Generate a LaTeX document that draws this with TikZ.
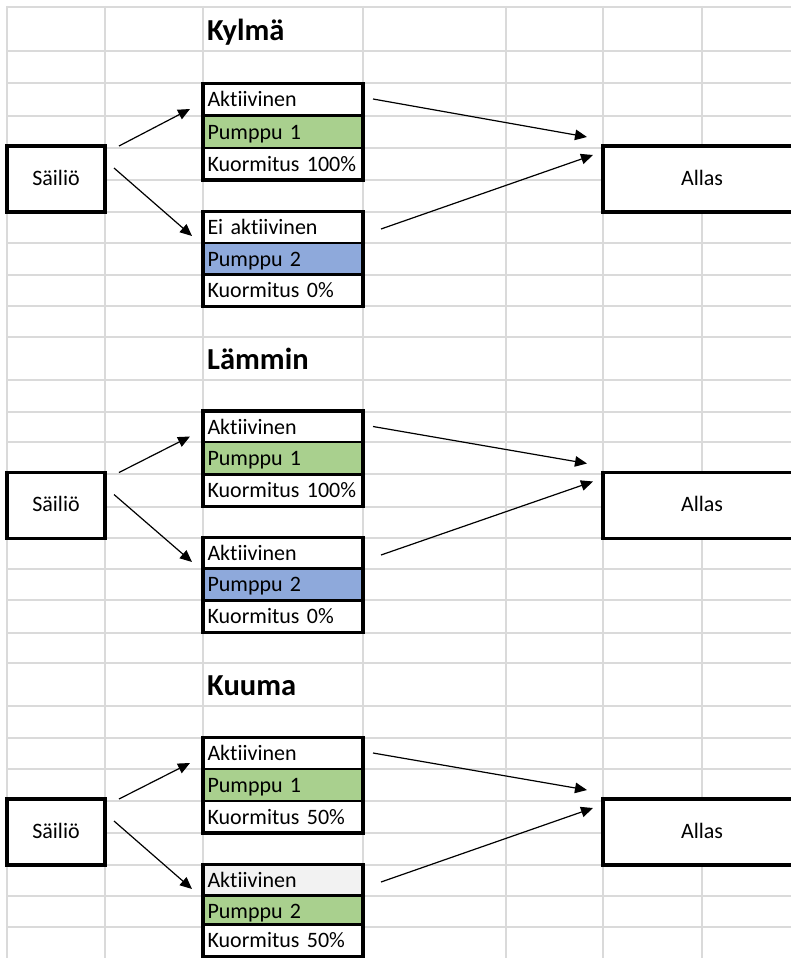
\documentclass[tikz,border=0pt]{standalone}
\usepackage{fontspec}
\setmainfont[Ligatures=NoCommon]{Carlito}
\usetikzlibrary{arrows.meta}
\definecolor{gridline}{HTML}{DADADA}
\definecolor{pumpgreen}{HTML}{A9D08E}
\definecolor{pumpblue}{HTML}{8EA9DB}
\definecolor{idlegray}{HTML}{F2F2F2}

\begin{document}
\begin{tikzpicture}[
  x=1pt,
  y=-1pt,
  >={Triangle[length=12pt,width=10.5pt]},
  sheet/.style={line width=2pt, color=gridline},
  heading/.style={font=\bfseries\fontsize{30.5}{36}\selectfont, inner sep=0pt, anchor=base west},
  tank/.style={draw=black, fill=white, line width=3.4pt, outer sep=0pt, inner sep=0pt,
               minimum width=98pt, minimum height=66pt,
               font=\fontsize{22}{26}\selectfont, text height=12pt, text depth=0pt},
  pool/.style={tank, minimum width=198pt},
  cell/.style={draw=black, fill=white, line width=2.4pt, outer sep=0pt,
               inner xsep=4.5pt, inner ysep=0pt, minimum height=32pt,
               text width=151pt, align=left, text height=15pt, text depth=1pt,
               font=\fontsize{22}{26}\selectfont},
  pumpframe/.style={draw=black, line width=3.4pt},
  flow/.style={->, line width=1.2pt},
]

\useasboundingbox (0,0) rectangle (791,958);
\clip (0,0) rectangle (791,958);

% sheet grid behind everything
\foreach \gx in {7,105,203,363,506,603,702}
  \draw[sheet] (\gx,6) -- (\gx,958);
\foreach \gy in {7,51,83,116,148,180,212,243,275,306,337,380,412,442,474,507,538,569,600,633,663,706,738,769,801,833,865,896,927}
  \draw[sheet] (6,\gy) -- (791,\gy);

% Kylmä: pump 1 runs alone.
\node[heading] (cold) at (207,41) {Kylmä};
\node[tank] (tank1) at (56,179) {Säiliö};
\node[pool] (pool1) at (702,179) {Allas};
\node[cell] (state11) at (283,99.5) {Aktiivinen};
\node[cell, fill=pumpgreen] (pump11) at (283,132) {Pumppu 1};
\node[cell] (load11) at (283,164) {Kuormitus 100\%};
\node[cell] (state12) at (283,227.5) {Ei aktiivinen};
\node[cell, fill=pumpblue] (pump12) at (283,259) {Pumppu 2};
\node[cell] (load12) at (283,290.5) {Kuormitus 0\%};
\draw[pumpframe] (state11.north west) rectangle (load11.south east);
\draw[pumpframe] (state12.north west) rectangle (load12.south east);
\draw[flow] ([shift={(14,-33)}]tank1.east) -- ([shift={(-13,9.5)}]state11.west);
\draw[flow] ([shift={(9,-11)}]tank1.east) -- ([shift={(-11,8.5)}]state12.west);
\draw[flow] ([shift={(10,-0.5)}]state11.east) -- ([shift={(-16,-42)}]pool1.west);
\draw[flow] ([shift={(18,1.5)}]state12.east) -- ([shift={(-10,-24)}]pool1.west);

% Lämmin: pump 2 on standby.
\node[heading] (warm) at (207,369) {Lämmin};
\node[tank] (tank2) at (56,505.5) {Säiliö};
\node[pool] (pool2) at (702,505.5) {Allas};
\node[cell] (state21) at (283,427) {Aktiivinen};
\node[cell, fill=pumpgreen] (pump21) at (283,458) {Pumppu 1};
\node[cell] (load21) at (283,490.5) {Kuormitus 100\%};
\node[cell] (state22) at (283,553.5) {Aktiivinen};
\node[cell, fill=pumpblue] (pump22) at (283,584.5) {Pumppu 2};
\node[cell] (load22) at (283,616.5) {Kuormitus 0\%};
\draw[pumpframe] (state21.north west) rectangle (load21.south east);
\draw[pumpframe] (state22.north west) rectangle (load22.south east);
\draw[flow] ([shift={(14,-33)}]tank2.east) -- ([shift={(-13,9.5)}]state21.west);
\draw[flow] ([shift={(9,-11)}]tank2.east) -- ([shift={(-11,8.5)}]state22.west);
\draw[flow] ([shift={(10,-0.5)}]state21.east) -- ([shift={(-16,-42)}]pool2.west);
\draw[flow] ([shift={(18,1.5)}]state22.east) -- ([shift={(-10,-24)}]pool2.west);

% Kuuma: both pumps share the load.
\node[heading] (hot) at (207,695) {Kuuma};
\node[tank] (tank3) at (56,832) {Säiliö};
\node[pool] (pool3) at (702,832) {Allas};
\node[cell] (state31) at (283,753.5) {Aktiivinen};
\node[cell, fill=pumpgreen] (pump31) at (283,785) {Pumppu 1};
\node[cell] (load31) at (283,817) {Kuormitus 50\%};
\node[cell, fill=idlegray] (state32) at (283,880.5) {Aktiivinen};
\node[cell, fill=pumpgreen] (pump32) at (283,911.5) {Pumppu 2};
\node[cell] (load32) at (283,940.5) {Kuormitus 50\%};
\draw[pumpframe] (state31.north west) rectangle (load31.south east);
\draw[pumpframe] (state32.north west) rectangle (load32.south east);
\draw[flow] ([shift={(14,-33)}]tank3.east) -- ([shift={(-13,9.5)}]state31.west);
\draw[flow] ([shift={(9,-11)}]tank3.east) -- ([shift={(-11,8.5)}]state32.west);
\draw[flow] ([shift={(10,-0.5)}]state31.east) -- ([shift={(-16,-42)}]pool3.west);
\draw[flow] ([shift={(18,1.5)}]state32.east) -- ([shift={(-10,-24)}]pool3.west);

\end{tikzpicture}
\end{document}
